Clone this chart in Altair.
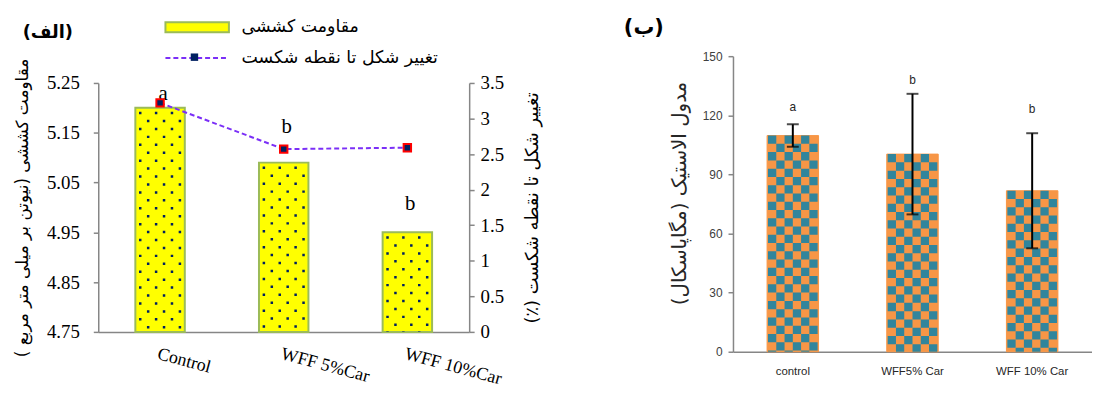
import altair as alt
import pandas as pd

# ---------------- data: panel (الف) ----------------
cat_left = ["Control", "WFF 5%Car", "WFF 10%Car"]
tensile = [5.20, 5.09, 4.95]          # مقاومت کششی
strain = [3.22, 2.57, 2.59]           # تغییر شکل تا نقطه شکست
sig_left = ["a", "b", "b"]
sig_left_y = [5.228, 5.162, 5.007]
left_ticks = [4.75, 4.85, 4.95, 5.05, 5.15, 5.25]
right_ticks = [0, 0.5, 1, 1.5, 2, 2.5, 3, 3.5]

# ---------------- data: panel (ب) ----------------
cat_right = ["control", "WFF5% Car", "WFF 10% Car"]
modulus = [109.7, 100.3, 81.7]
modulus_err = [5.7, 30.6, 29.2]
sig_right = ["a", "b", "b"]
sig_right_y = [124.0, 138.0, 123.0]
mod_ticks = [0, 30, 60, 90, 120, 150]

bar_label = "مقاومت کششی"
line_label = "تغییر شکل تا نقطه شکست"
RLM = "\u200f"

AR_FONT = "DejaVu Sans"
SERIF = "Liberation Serif"
SANS = "Liberation Sans"
GRAY = "#868686"

LEFT_H = 278      # left panel drawing height (plot rows start 27px below its top)
LEFT_TOP = 27

df_left = pd.DataFrame({
    "cat": cat_left, "tensile": tensile, "strain": strain,
    "sig": sig_left, "sig_y": sig_left_y,
    "series": bar_label, "series2": line_label, "mk": " ",
})
df_right = pd.DataFrame({
    "cat": cat_right, "modulus": modulus,
    "lo": [m - e for m, e in zip(modulus, modulus_err)],
    "hi": [m + e for m, e in zip(modulus, modulus_err)],
    "sig": sig_right, "sig_y": sig_right_y,
})

# ---------------- left panel ----------------
xl = alt.X("cat:N", sort=cat_left,
           scale=alt.Scale(paddingInner=0.6, paddingOuter=0.3),
           axis=alt.Axis(title=None, labelAngle=15, labelAlign="left", labelBaseline="top",
                         labelFont=SERIF, labelFontSize=18, labelColor="black",
                         ticks=False, domainColor=GRAY, domainWidth=1.5, labelPadding=13))

yl_scale = alt.Scale(domain=[4.75, 5.25], zero=False, nice=False, range=[LEFT_H, LEFT_TOP])
yl_axis = alt.Axis(values=left_ticks, format=".2f", labelFont=SERIF, labelFontSize=19,
                   labelColor="black", tickColor=GRAY, tickWidth=1.5, tickSize=5,
                   domainColor=GRAY, domainWidth=1.5, labelPadding=14, grid=False,
                   title="مقاومت کششی (نیوتن بر میلی متر مربع )" + RLM,
                   titleFont=AR_FONT, titleFontSize=17, titleFontWeight="normal",
                   titleColor="black", titlePadding=15)

def yl(field):
    return alt.Y(field, scale=yl_scale, axis=yl_axis)

base_l = alt.Chart(df_left)

bars_l = base_l.mark_bar(stroke="#9BBB59", strokeWidth=2).encode(
    x=xl, y=yl("tensile:Q"), y2=alt.Y2Datum(4.75),
    fill=alt.Fill("series:N", scale=alt.Scale(domain=[bar_label], range=["#FFFF00"]),
                  legend=alt.Legend(title=None, orient="none", legendX=91, legendY=-38,
                                    symbolType="M-6.4,-1H6.4V1H-6.4Z", symbolSize=100,
                                    symbolStrokeColor="#9BBB59", symbolStrokeWidth=2,
                                    labelFont=AR_FONT, labelFontSize=17.5, labelColor="black",
                                    labelOffset=36, labelLimit=400, padding=0)),
)

dot_offsets = [-20, -12, -4, 4, 12, 20]
dots_l = [
    base_l.mark_rule(xOffset=off, strokeDash=[2.5, 13.5],
                     strokeDashOffset=(12 if i % 2 == 0 else 4),
                     strokeWidth=2.5, color="#002060", strokeCap="butt").encode(
        x=xl, y=yl("tensile:Q"), y2=alt.Y2Datum(4.75))
    for i, off in enumerate(dot_offsets)
]

letters_l = base_l.mark_text(font=SERIF, fontSize=21, color="black", baseline="middle",
                             dx=3).encode(
    x=xl, y=yl("sig_y:Q"), text="sig:N")

left_inner = alt.layer(bars_l, *dots_l, letters_l)

yr = alt.Y("strain:Q", scale=alt.Scale(domain=[0, 3.5], nice=False, range=[LEFT_H, LEFT_TOP]),
           axis=alt.Axis(orient="right", values=right_ticks, format="~f",
                         labelFont=SERIF, labelFontSize=19, labelColor="black",
                         tickColor=GRAY, tickWidth=1.5, tickSize=5, domainColor=GRAY,
                         domainWidth=1.5, labelPadding=6, grid=False,
                         title="تغییر شکل تا نقطه شکست (٪)" + RLM, titleAngle=270,
                         titleFont=AR_FONT, titleFontSize=18, titleFontWeight="normal",
                         titleColor="black", titlePadding=38))

line_l = base_l.mark_line(strokeDash=[5, 3], strokeWidth=2).encode(
    x=xl, y=yr,
    stroke=alt.Stroke("series2:N", scale=alt.Scale(domain=[line_label], range=["#7B2FF7"]),
                      legend=alt.Legend(title=None, orient="none", legendX=91, legendY=-7,
                                        symbolType="M-6.4,0H6.4", symbolSize=100,
                                        symbolDash=[5, 3], symbolStrokeWidth=2,
                                        labelFont=AR_FONT, labelFontSize=17.5, labelColor="black",
                                        labelOffset=36, labelLimit=400, padding=0)),
)
pts_l = base_l.mark_point(filled=True, fill="#002060", stroke="#FF0000", strokeWidth=2,
                          size=56, opacity=1).encode(
    x=xl, y=yr,
    shape=alt.Shape("mk:N", scale=alt.Scale(domain=[" "], range=["square"]),
                    legend=alt.Legend(title=None, orient="none", legendX=92, legendY=-4,
                                      symbolSize=56, symbolFillColor="#002060",
                                      symbolStrokeColor="#FF0000", symbolStrokeWidth=2,
                                      symbolOpacity=1, labelExpr="''", padding=0)),
)
right_inner = alt.layer(line_l, pts_l)

left = alt.layer(left_inner, right_inner).resolve_scale(y="independent").properties(
    width=374, height=LEFT_H,
    title=alt.TitleParams("(الف)", anchor="start", font=AR_FONT, fontSize=18,
                          fontWeight="bold", color="black", dx=9, offset=14),
)

# ---------------- right panel ----------------
xr = alt.X("cat:N", sort=cat_right,
           scale=alt.Scale(paddingInner=0.57, paddingOuter=0.285),
           axis=alt.Axis(title=None, labelAngle=0, ticks=False, labelFont=SANS,
                         labelFontSize=11.5, labelColor="#262626", domainColor=GRAY,
                         domainWidth=1.5, labelPadding=14))
ym_scale = alt.Scale(domain=[0, 150], nice=False)
ym_axis = alt.Axis(values=mod_ticks, labelFont=SANS, labelFontSize=12, labelColor="#404040",
                   tickColor=GRAY, tickWidth=1.5, tickSize=5, domainColor=GRAY,
                   domainWidth=1.5, labelPadding=6, grid=False,
                   title="مدول الاستیک (مگاپاسکال)" + RLM, titleFont=AR_FONT,
                   titleFontSize=20, titleFontWeight="normal", titleColor="#262626",
                   titlePadding=13, titleY=138)

def ym(field):
    return alt.Y(field, scale=ym_scale, axis=ym_axis)

base_r = alt.Chart(df_right)
bars_r = base_r.mark_bar(color="#F79646", stroke="#F79646", strokeWidth=1).encode(
    x=xr, y=ym("modulus:Q"))

cw = 50 / 6
check_offsets = [(-2.5 + k) * cw for k in range(6)]
checks_r = [
    base_r.mark_rule(xOffset=off, strokeDash=[cw, cw], strokeDashOffset=(0 if i % 2 == 0 else cw),
                     strokeWidth=cw, color="#31859C", strokeCap="butt").encode(
        x=xr, y=ym("modulus:Q"), y2=alt.Y2Datum(0))
    for i, off in enumerate(check_offsets)
]
err_r = base_r.mark_rule(color="black", strokeWidth=2).encode(x=xr, y=ym("lo:Q"), y2="hi:Q")
cap_hi = base_r.mark_tick(color="black", size=12, thickness=2).encode(x=xr, y=ym("hi:Q"))
cap_lo = base_r.mark_tick(color="black", size=12, thickness=2).encode(x=xr, y=ym("lo:Q"))
letters_r = base_r.mark_text(font=SANS, fontSize=12, color="#262626", baseline="middle").encode(
    x=xr, y=ym("sig_y:Q"), text="sig:N")

right = alt.layer(bars_r, *checks_r, err_r, cap_hi, cap_lo, letters_r).properties(
    width=362, height=298,
    title=alt.TitleParams("(ب)", anchor="start", font=AR_FONT, fontSize=21,
                          fontWeight="bold", color="black", dx=-46, offset=12),
)

chart = alt.hconcat(left, right, spacing=82).properties(
    padding={"left": 5, "top": 8, "right": 0, "bottom": 0}
).configure_view(stroke=None).configure_axis(grid=False)

chart.save("out.html", embed_options={"renderer": "svg", "actions": False})
